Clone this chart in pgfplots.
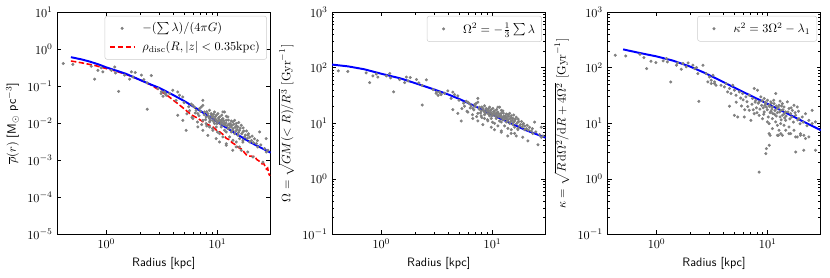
\documentclass[border=0pt]{standalone}
\usepackage{pgfplots}
\pgfplotsset{compat=1.18}
\pgfplotsset{
  wide legend/.style={legend image code/.code={\path[draw=none,fill=none] (0pt,0pt) -- (20pt,0pt);\draw[mark repeat=2,mark phase=2,##1] plot coordinates {(0pt,0pt)(10pt,0pt)(20pt,0pt)};}},
  panel/.style={
    at={(#1,35pt)}, anchor=south west,
    scale only axis, width=175pt, height=182pt,
    xmin=0.36, xmax=30,
    tick align=inside,
    major tick length=3.5pt, minor tick length=2pt,
    axis line style={line width=0.6pt},
    every tick/.style={black, line width=0.5pt},
    xlabel={\textsf{Radius [kpc]}},
    xtick={1,10},
    legend style={at={(1,1)}, anchor=north east, xshift=-3pt, yshift=-3pt,
      draw=black!20, rounded corners=2pt, fill=white, inner sep=3.5pt,
      row sep=2.5pt, column sep=4pt, font=\normalsize},
    legend cell align=left,
  },
  pts/.style={only marks, mark=*, mark size=1.05pt, color=gray, wide legend},
  bl/.style={blue, line width=1.6pt, no marks},
}
\begin{document}
\begin{tikzpicture}
\useasboundingbox (0,0) rectangle (680pt,227pt);
% ---------------- Panel 1 ----------------
\begin{loglogaxis}[panel=46.7pt, ymin=1e-5, ymax=10, yminorticks=false,
  ytick={1e-5,1e-4,1e-3,1e-2,1e-1,1,10},
  ylabel={$\overline{\rho}(r)$ \textsf{[M$_\odot$ pc$^{-3}$]}}]
\addplot[pts] coordinates {
(0.41,0.41)(0.50,0.389)(0.73,0.347)(0.785,0.155)(0.84,0.269)(0.93,0.245)(0.90,0.316)(1.11,0.269)(1.19,0.331)(1.21,0.229)(1.29,0.0724)(1.46,0.20)(1.62,0.155)(1.68,0.245)(1.82,0.234)(1.74,0.178)(2.07,0.20)(2.17,0.151)(2.33,0.024)(2.54,0.195)(2.33,0.123)(2.92,0.087)(3.13,0.0708)(3.24,0.0537)(3.40,0.063)
(3.11,0.0634)(3.33,0.0703)(3.70,0.0634)(3.96,0.078)(4.39,0.0703)(4.55,0.0571)(4.87,0.0515)(4.24,0.0418)(3.45,0.0571)
(4.39,0.0164)(4.87,0.0120)(5.22,0.00647)
(6.00,0.0306)(6.42,0.0224)(6.65,0.0182)(6.88,0.0249)(7.38,0.0306)(7.13,0.0276)(7.64,0.0202)(7.91,0.0148)(8.18,0.0182)(8.47,0.0224)(8.77,0.0182)(9.08,0.0148)(9.40,0.0202)(9.73,0.0164)(10.07,0.0182)(10.42,0.0148)(10.79,0.0120)(11.17,0.0202)(11.56,0.0098)(11.97,0.0120)(12.39,0.0148)(12.83,0.00883)(13.28,0.00796)(13.75,0.0109)(14.23,0.0120)(14.73,0.0098)(15.25,0.00796)(15.79,0.00647)(16.34,0.00883)(16.92,0.00583)(17.51,0.00428)(18.76,0.00474)(19.42,0.00313)(22.30,0.00282)(23.89,0.00583)(26.50,0.00207)(27.44,0.00168)
(6.00,0.0134)(6.65,0.00796)(7.38,0.00647)(8.47,0.00796)(9.08,0.00647)(9.73,0.00796)(10.42,0.00526)(11.97,0.00583)(12.83,0.00428)(13.75,0.00347)(14.73,0.00313)(15.79,0.00229)(16.34,0.00186)(11.97,0.00254)(10.42,0.00313)(11.17,0.00428)
(7.38,0.0120)(7.91,0.0098)(8.47,0.0109)(9.40,0.0098)(10.07,0.0109)(10.79,0.00796)(11.56,0.00647)(7.38,0.0418)(11.56,0.0202)(8.47,0.0134)(9.08,0.0120)(9.73,0.0120)(11.17,0.0134)(12.39,0.00718)(13.28,0.00583)(14.23,0.00526)(15.25,0.00474)(15.79,0.00385)(16.92,0.00347)
(8.18,0.0047)(9.73,0.00385)(12.0,0.0028)(13.7,0.00186)(14.7,0.0023)(16.9,0.0031)(18.7,0.00168)(20.8,0.00123)(23.0,0.0023)(25.6,0.00089)(27.4,0.00385)(28.4,0.00186)
(5.5,0.028)(5.8,0.033)(6.2,0.027)(5.0,0.036)(5.6,0.022)
(8.8,0.0165)(9.5,0.0135)(10.3,0.0125)(11.0,0.0105)(11.8,0.0088)(12.6,0.0095)(13.3,0.0115)(9.9,0.0098)(10.9,0.0165)(12.0,0.0155)(13.8,0.0072)(14.8,0.0085)(15.5,0.0105)(17.0,0.0075)(18.2,0.0062)(19.0,0.0052)(20.5,0.0045)(21.5,0.0038)
(6.3,0.019)(6.8,0.016)(7.0,0.021)(7.6,0.017)(7.8,0.0125)(8.0,0.0205)(8.3,0.0155)(8.6,0.0118)(8.9,0.0145)(9.2,0.0175)(9.3,0.0108)(9.6,0.0152)(9.8,0.0118)(10.2,0.0138)(10.6,0.0112)(10.6,0.0095)(11.0,0.0128)(11.3,0.0092)(11.4,0.0116)(11.9,0.0102)(12.2,0.0085)(12.5,0.0122)(12.7,0.0074)(13.0,0.0098)(13.4,0.0088)(13.6,0.0064)(14.0,0.0094)(14.4,0.0078)(14.6,0.0062)(15.0,0.0068)(15.4,0.0056)(16.0,0.0074)(16.5,0.0052)(17.2,0.0062)(17.8,0.0048)(18.5,0.0039)(19.5,0.0042)(20.2,0.0034)(21.0,0.0030)(22.8,0.0034)(24.5,0.0026)(7.2,0.0092)(8.0,0.0085)(9.0,0.0072)(10.0,0.0058)(5.3,0.018)(5.9,0.0145)(6.6,0.0108)
};
\addlegendentry{$-(\sum\lambda)/(4\pi G)$}
\addplot[red, line width=1.3pt, dash pattern=on 4.5pt off 2pt, no marks, wide legend] coordinates {
(0.48,0.48)(0.55,0.45)(0.65,0.41)(0.8,0.36)(1.0,0.30)(1.2,0.26)(1.5,0.21)(1.8,0.17)(2.1,0.14)(2.5,0.11)(3.0,0.078)(3.5,0.058)(4.0,0.042)(4.5,0.032)(5.2,0.0224)(5.8,0.017)(6.4,0.0145)(6.9,0.0126)(7.5,0.0107)(8.2,0.0092)(9.1,0.0079)(9.8,0.0065)(10.5,0.0058)(11.2,0.0050)(12.0,0.0039)(12.8,0.0036)(13.5,0.0030)(14.3,0.0027)(15.0,0.0024)(15.8,0.0021)(16.6,0.0020)(17.5,0.0016)(18.2,0.0014)(19.0,0.0013)(20.0,0.0013)(20.8,0.00125)(21.6,0.0013)(22.5,0.00105)(23.4,0.00098)(24.3,0.00088)(25.2,0.00080)(26.0,0.00082)(26.8,0.00068)(27.5,0.00058)(28.2,0.00062)(28.8,0.00045)(29.5,0.00038)
};
\addlegendentry{$\rho_{\rm disc}(R,|z|<0.35{\rm kpc})$}
\addplot[bl, forget plot] coordinates {
(0.48,0.61)(0.6,0.53)(0.7,0.469)(0.85,0.39)(1,0.323)(1.25,0.26)(1.5,0.217)(2,0.149)(2.5,0.112)(3,0.09)(4,0.0578)(5,0.0401)(7,0.0217)(10,0.0107)(15,0.0050)(20,0.0030)(30,0.00161)
};
\end{loglogaxis}
% ---------------- Panel 2 ----------------
\begin{loglogaxis}[panel=272pt, ymin=0.1, ymax=1000,
  ytick={0.1,1,10,100,1000},
  ylabel={$\Omega=\sqrt{GM(<R)/R^3}$ $[\mathrm{Gyr}^{-1}]$}]
\addplot[pts] coordinates {
(0.41,87.9)(0.50,85.6)(0.73,80.8)(0.785,54.0)(0.84,71.2)(0.93,68.0)(0.90,77.2)(1.11,71.2)(1.19,79.0)(1.21,65.7)(1.29,36.9)(1.46,61.3)(1.62,54.0)(1.68,68.0)(1.82,66.5)(1.74,57.9)(2.07,61.3)(2.17,53.4)(2.33,21.3)(2.54,60.6)(2.33,48.1)(2.92,40.5)(3.13,36.5)(3.24,31.8)(3.40,34.5)
(3.11,34.6)(3.33,36.4)(3.70,34.6)(3.96,38.3)(4.39,36.4)(4.55,32.8)(4.87,31.2)(4.24,28.1)(3.45,32.8)
(4.39,17.6)(4.87,15.1)(5.22,11.0)
(6.00,24.0)(6.42,20.6)(6.65,18.5)(6.88,21.7)(7.38,24.0)(7.13,22.8)(7.64,19.5)(7.91,16.7)(8.18,18.5)(8.47,20.6)(8.77,18.5)(9.08,16.7)(9.40,19.5)(9.73,17.6)(10.07,18.5)(10.42,16.7)(10.79,15.1)(11.17,19.5)(11.56,13.6)(11.97,15.1)(12.39,16.7)(12.83,12.9)(13.28,12.2)(13.75,14.3)(14.23,15.1)(14.73,13.6)(15.25,12.2)(15.79,11.0)(16.34,12.9)(16.92,10.5)(17.51,8.97)(18.76,9.45)(19.42,7.67)(22.30,7.29)(23.89,10.5)(26.50,6.24)(27.44,5.62)
(6.00,15.9)(6.65,12.2)(7.38,11.0)(8.47,12.2)(9.08,11.0)(9.73,12.2)(10.42,9.95)(11.97,10.5)(12.83,8.97)(13.75,8.08)(14.73,7.67)(15.79,6.57)(16.34,5.92)(11.97,6.92)(10.42,7.67)(11.17,8.97)
(7.38,15.1)(7.91,13.6)(8.47,14.3)(9.40,13.6)(10.07,14.3)(10.79,12.2)(11.56,11.0)(7.38,28.1)(11.56,19.5)(8.47,15.9)(9.08,15.1)(9.73,15.1)(11.17,15.9)(12.39,11.6)(13.28,10.5)(14.23,9.95)(15.25,9.45)(15.79,8.51)(16.92,8.08)
(8.18,9.45)(9.73,8.51)(12.0,7.29)(13.7,5.92)(14.7,6.57)(16.9,7.67)(18.7,5.62)(20.8,4.81)(23.0,6.57)(25.6,4.10)(27.4,8.51)(28.4,5.92)
(5.5,23.0)(5.8,24.9)(6.2,22.5)(5.0,26.0)(5.6,20.3)
(8.8,17.6)(9.5,15.9)(10.3,15.3)(11.0,14.1)(11.8,12.9)(12.6,13.4)(13.3,14.7)(9.9,13.6)(10.9,17.6)(12.0,17.1)(13.8,11.6)(14.8,12.65)(15.5,14.1)(17.0,11.9)(18.2,10.8)(19.0,9.9)(20.5,9.2)(21.5,8.46)
(6.3,18.9)(6.8,17.4)(7.0,19.9)(7.6,17.9)(7.8,15.3)(8.0,19.6)(8.3,17.1)(8.6,14.9)(8.9,16.5)(9.2,18.2)(9.3,14.3)(9.6,16.9)(9.8,14.9)(10.2,16.1)(10.6,14.5)(10.6,13.4)(11.0,15.5)(11.3,13.2)(11.4,14.8)(11.9,13.9)(12.2,12.65)(12.5,15.2)(12.7,11.8)(13.0,13.6)(13.4,12.9)(13.6,11.0)(14.0,13.3)(14.4,12.1)(14.6,10.8)(15.0,11.3)(15.4,10.3)(16.0,11.8)(16.5,9.9)(17.2,10.8)(17.8,9.5)(18.5,8.57)(19.5,8.9)(20.2,8.0)(21.0,7.52)(22.8,8.0)(24.5,7.0)(7.2,13.2)(8.0,12.65)(9.0,11.6)(10.0,10.45)(5.3,18.4)(5.9,16.5)(6.6,14.3)
};
\addlegendentry{$\Omega^2=-\frac{1}{3}\sum\lambda$}
\addplot[bl, forget plot] coordinates {
(0.36,114)(0.5,106)(0.7,94)(1,78)(1.5,64)(2,53)(3,40.5)(4,33)(5,27.5)(7,20.2)(10,14.2)(15,9.7)(20,7.5)(30,5.5)
};
\end{loglogaxis}
% ---------------- Panel 3 ----------------
\begin{loglogaxis}[panel=497.5pt, ymin=0.1, ymax=1000,
  ytick={0.1,1,10,100,1000},
  ylabel={$\kappa=\sqrt{R\,\mathrm{d}\Omega^2/\mathrm{d}R+4\Omega^2}$ $[\mathrm{Gyr}^{-1}]$}]
\addplot[pts] coordinates {
(0.425,168)(0.528,163)(0.709,175)(0.77,152)(0.814,96.6)(0.89,131)(0.986,124)(1.147,133)(1.23,146)(1.25,127)(1.34,55.6)(1.51,111)(1.54,122)(1.67,94)(1.73,119)(1.85,104)(1.92,122)(2.12,111)(2.20,96.6)(2.28,101)(2.35,78.5)(2.40,24.9)(2.61,111)(2.79,78.5)(2.99,68.4)(3.10,59.6)(3.21,73.3)(3.32,51.9)
(2.89,55.6)(3.10,51.9)(3.32,55.6)(3.43,48.4)(3.80,48.4)(4.07,45.2)(4.22,51.9)(4.52,42.2)(4.84,48.4)(5.01,39.4)(4.36,36.7)(4.67,34.3)(5.18,32.0)(5.55,36.7)(5.94,34.3)(6.36,29.9)(6.81,32.0)(7.30,27.9)(7.55,42.2)(8.09,39.4)(7.81,26.0)(8.37,24.3)(8.66,29.9)(9.28,27.9)(9.60,22.6)(9.93,26.0)(10.28,21.1)(10.64,24.3)(11.01,19.7)(11.39,22.6)(11.79,34.3)(12.20,18.4)(12.63,21.1)(13.07,17.1)(13.52,22.6)(13.99,19.7)(14.48,16.0)(14.99,24.3)(15.51,18.4)(16.05,14.9)(16.61,17.1)(17.19,21.1)(18.40,19.7)(17.78,13.9)(19.05,12.1)(20.40,13.0)(21.84,14.9)(23.39,11.3)(25.05,17.1)(26.83,10.6)
(4.52,20.3)(5.01,13.9)(5.36,13.0)(6.15,13.0)(6.81,17.1)(7.05,11.3)(7.55,14.9)(8.37,13.9)(8.96,12.1)(9.28,16.0)(9.93,10.6)(10.28,9.86)(11.01,12.1)(11.79,10.6)(12.20,9.20)(13.07,9.86)(13.99,9.20)(14.48,11.3)(15.51,8.59)(16.05,6.52)(17.19,7.48)(18.40,5.67)(19.71,6.08)(21.84,5.30)(25.05,9.86)(10.28,6.52)(11.01,8.02)(12.20,6.08)(13.52,6.08)(14.48,7.48)(12.63,7.48)
(8.36,1.32)(9.6,2.84)(9.73,3.50)(10.3,4.02)(10.5,6.08)(12.5,6.08)(13.1,6.5)(15.5,6.5)(17.8,5.67)(17.8,3.04)(19.7,6.5)(21.1,3.27)(21.1,6.08)(23.4,5.67)(26.8,3.27)
(8.8,21)(9.1,19)(9.9,17.5)(10.5,15.5)(10.9,18)(11.5,14.5)(12.2,15.5)(12.9,13)(13.6,14)(14.2,12.5)(9.5,24)(10.8,23)(11.9,20.5)(12.9,25)(7.2,22)(7.9,19)(6.5,24.5)(6.0,26.5)(5.7,28.5)
(8.2,23)(8.5,18)(8.9,25.5)(9.2,14.5)(9.4,21)(9.7,19.5)(10.1,13)(10.4,20)(10.7,16.5)(11.1,15)(11.3,26)(11.6,17)(11.9,13.5)(12.4,19.5)(12.8,16)(13.2,11.5)(13.7,17.5)(14.1,15)(14.6,13.5)(15.2,16)(15.8,12)(16.4,13)(17.0,10.5)(17.6,15.5)(18.6,11.5)(19.5,9.8)(20.8,10.5)(22.5,9)(6.6,20)(7.4,17.5)(7.7,24)(8.0,15.5)(5.2,24)(5.8,20.5)(6.2,17.5)(13.3,20.5)(16.2,19)(18.9,16.5)
};
\addlegendentry{$\kappa^2=3\Omega^2-\lambda_1$}
\addplot[bl, forget plot] coordinates {
(0.5,214)(0.7,185)(1,160)(1.41,134)(2,105)(2.7,81)(3.67,60)(5,44)(7,31.5)(10,22.3)(15,15)(20,11.2)(30,7.5)
};
\end{loglogaxis}
\end{tikzpicture}
\end{document}
